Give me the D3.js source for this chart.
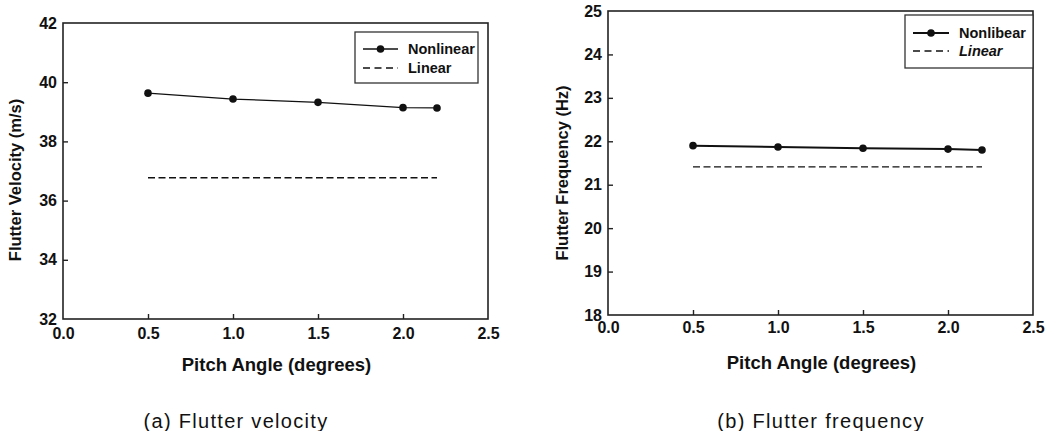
<!DOCTYPE html>
<html>
<head>
<meta charset="utf-8">
<script src="https://cdn.jsdelivr.net/npm/d3@7/dist/d3.min.js"></script>
<style>
  html, body { margin: 0; padding: 0; background: #fff; }
  svg { display: block; font-family: Arial, "Liberation Sans", sans-serif; }
</style>
</head>
<body>
<svg id="chart" width="1060" height="431"></svg>
<script>
// pitch angle samples (degrees)
const pitchAngles = [0.5, 1.0, 1.5, 2.0, 2.2];
const linearAngles = [0.5, 2.2];

// panel (a) flutter velocity, m/s
const velocityNonlinear = [39.63, 39.43, 39.32, 39.14, 39.13];
const velocityLinear = [36.77, 36.77];
const velocityTicks = [32, 34, 36, 38, 40, 42];

// panel (b) flutter frequency, Hz
const frequencyNonlinear = [21.90, 21.87, 21.84, 21.82, 21.80];
const frequencyLinear = [21.41, 21.41];
const frequencyTicks = [18, 19, 20, 21, 22, 23, 24, 25];

const angleTicks = [0.0, 0.5, 1.0, 1.5, 2.0, 2.5];

const svg = d3.select('#chart');

function styleAxis(sel) {
  sel.attr('font-family', null).attr('font-size', null);
  sel.select('.domain').remove();
  sel.selectAll('.tick text')
    .style('font-family', 'Arial, "Liberation Sans", sans-serif')
    .style('font-size', '16px').style('font-weight', 'bold').attr('fill', '#111');
  sel.selectAll('.tick line').attr('stroke', '#222').attr('stroke-width', 1.4);
}

function drawPanel(p) {
  const x = d3.scaleLinear().domain([0, 2.5]).range([p.left, p.right]);
  const y = d3.scaleLinear().domain(d3.extent(p.yTicks)).range([p.bottom, p.top]);
  const g = svg.append('g');

  // frame
  g.append('rect')
    .attr('x', p.left).attr('y', p.top)
    .attr('width', p.right - p.left).attr('height', p.bottom - p.top)
    .attr('fill', 'none').attr('stroke', '#222').attr('stroke-width', 1.6);

  const xAxis = g.append('g')
    .attr('transform', `translate(0,${p.bottom})`)
    .call(d3.axisBottom(x).tickValues(angleTicks).tickSize(-5)
      .tickPadding(p.xPad).tickFormat(d3.format('.1f')));
  styleAxis(xAxis);
  xAxis.selectAll('.tick line').filter(d => d === 0 || d === 2.5).remove();

  const yAxis = g.append('g')
    .attr('transform', `translate(${p.left},0)`)
    .call(d3.axisLeft(y).tickValues(p.yTicks).tickSize(-5).tickPadding(6).tickFormat(d3.format('d')));
  styleAxis(yAxis);
  yAxis.selectAll('.tick line').filter((d, i) => i === 0 || i === p.yTicks.length - 1).remove();

  // linear (dashed)
  g.append('path')
    .datum(linearAngles.map((a, i) => [a, p.linear[i]]))
    .attr('d', d3.line().x(d => x(d[0])).y(d => y(d[1])))
    .attr('fill', 'none').attr('stroke', '#111').attr('stroke-width', 1.4)
    .attr('stroke-dasharray', '7,3.5');

  // nonlinear (solid + markers)
  const pts = pitchAngles.map((a, i) => [a, p.nonlinear[i]]);
  g.append('path')
    .datum(pts)
    .attr('d', d3.line().x(d => x(d[0])).y(d => y(d[1])))
    .attr('fill', 'none').attr('stroke', '#111').attr('stroke-width', p.lineWidth);
  g.selectAll('circle.pt').data(pts).join('circle')
    .attr('class', 'pt')
    .attr('cx', d => x(d[0])).attr('cy', d => y(d[1]))
    .attr('r', 3.8).attr('fill', '#111');

  // legend
  const L = p.legend;
  g.append('rect')
    .attr('x', L.x0).attr('y', L.y0).attr('width', L.x1 - L.x0).attr('height', L.y1 - L.y0)
    .attr('fill', '#fff').attr('stroke', '#333').attr('stroke-width', 1.3);
  g.append('line')
    .attr('x1', L.lx0).attr('x2', L.lx1).attr('y1', L.r1).attr('y2', L.r1)
    .attr('stroke', '#111').attr('stroke-width', p.lineWidth);
  g.append('circle').attr('cx', (L.lx0 + L.lx1) / 2).attr('cy', L.r1).attr('r', 3.8).attr('fill', '#111');
  g.append('line')
    .attr('x1', L.lx0).attr('x2', L.lx1).attr('y1', L.r2).attr('y2', L.r2)
    .attr('stroke', '#111').attr('stroke-width', 1.4).attr('stroke-dasharray', '7,4.5');
  g.append('text').attr('x', L.tx).attr('y', L.r1).attr('dy', '0.35em')
    .attr('font-size', 14.5).attr('font-weight', 'bold').attr('fill', '#111')
    .text(p.names[0]);
  g.append('text').attr('x', L.tx).attr('y', L.r2).attr('dy', '0.35em')
    .attr('font-size', 14.5).attr('font-weight', 'bold').attr('fill', '#111')
    .attr('font-style', p.italicLinear ? 'italic' : 'normal')
    .text(p.names[1]);

  // axis titles
  g.append('text')
    .attr('x', (p.left + p.right) / 2 + 1).attr('y', p.xTitleY)
    .attr('text-anchor', 'middle').attr('font-size', 18.5).attr('font-weight', 'bold').attr('fill', '#111')
    .text('Pitch Angle (degrees)');
  g.append('text')
    .attr('transform', `translate(${p.yTitleX},${p.yTitleY}) rotate(-90)`)
    .attr('text-anchor', 'middle').attr('font-size', 16.5).attr('font-weight', 'bold').attr('fill', '#111')
    .text(p.yTitle);

  // caption
  g.append('text')
    .attr('x', p.capX).attr('y', 428)
    .attr('text-anchor', 'middle').attr('font-size', 20).attr('letter-spacing', 1.3).attr('fill', '#111')
    .text(p.caption);
}

drawPanel({
  left: 63, right: 488, top: 23, bottom: 319, xPad: 9,
  yTicks: velocityTicks, nonlinear: velocityNonlinear, linear: velocityLinear,
  lineWidth: 1.3, names: ['Nonlinear', 'Linear'], italicLinear: false,
  legend: { x0: 355, x1: 478, y0: 32, y1: 83, lx0: 363, lx1: 398, tx: 408, r1: 49, r2: 68 },
  xTitleY: 371, yTitle: 'Flutter Velocity (m/s)', yTitleX: 21, yTitleY: 180,
  caption: '(a)  Flutter velocity', capX: 236
});

drawPanel({
  left: 608, right: 1033, top: 11, bottom: 315, xPad: 7,
  yTicks: frequencyTicks, nonlinear: frequencyNonlinear, linear: frequencyLinear,
  lineWidth: 2, names: ['Nonlibear', 'Linear'], italicLinear: true,
  legend: { x0: 905, x1: 1033, y0: 15, y1: 68, lx0: 913, lx1: 949, tx: 959, r1: 33, r2: 51 },
  xTitleY: 369, yTitle: 'Flutter Frequency (Hz)', yTitleX: 568, yTitleY: 173,
  caption: '(b)  Flutter frequency', capX: 821
});
</script>
</body>
</html>
